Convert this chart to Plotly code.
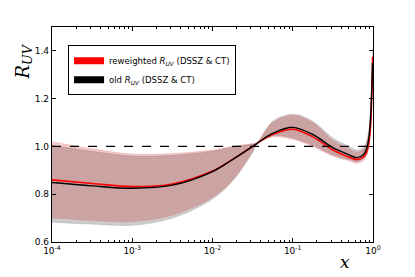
import plotly.graph_objects as go

# log10(x) sample positions and values
logx = [-4, -3.5, -3, -2.5, -2, -1.75, -1.5, -1.45, -1.25, -1.0, -0.75, -0.5, -0.3, -0.2,
        -0.12, -0.08, -0.05, -0.03, -0.02, -0.01, -0.005]
x = [10 ** v for v in logx]

old_central = [0.849, 0.835, 0.825, 0.838, 0.895, 0.945, 1.0, 1.012, 1.055, 1.08, 1.05, 0.995,
               0.965, 0.953, 0.965, 0.99, 1.04, 1.12, 1.2, 1.3, 1.35]
new_central = [0.86, 0.845, 0.832, 0.843, 0.897, 0.946, 1.0, 1.012, 1.05, 1.072, 1.04, 0.985,
               0.955, 0.945, 0.955, 0.975, 1.02, 1.09, 1.17, 1.28, 1.375]

new_upper = [1.02, 0.99, 0.968, 0.97, 0.985, 1.0, 1.012, 1.015, 1.1, 1.13, 1.1, 1.025,
             0.99, 0.975, 0.99, 1.02, 1.07, 1.15, 1.23, 1.34, 1.4]
new_lower = [0.70, 0.69, 0.685, 0.712, 0.787, 0.86, 0.98, 1.01, 1.04, 1.03, 1.0, 0.96,
             0.94, 0.93, 0.94, 0.96, 1.0, 1.06, 1.13, 1.24, 1.33]

old_upper = [1.005, 0.98, 0.96, 0.963, 0.98, 0.997, 1.01, 1.013, 1.105, 1.135, 1.105, 1.035,
             1.0, 0.985, 0.995, 1.02, 1.07, 1.15, 1.23, 1.33, 1.38]
old_lower = [0.683, 0.675, 0.67, 0.70, 0.78, 0.855, 0.975, 1.008, 1.045, 1.035, 1.005, 0.965,
             0.945, 0.937, 0.95, 0.97, 1.01, 1.07, 1.14, 1.25, 1.32]

yticks = [0.6, 0.8, 1.0, 1.2, 1.4]
yticktext = ["0.6", "0.8", "1.0", "1.2", "1.4"]
xticks = [1e-4, 1e-3, 1e-2, 1e-1, 1]
xticktext = ["10<sup>-4</sup>", "10<sup>-3</sup>", "10<sup>-2</sup>", "10<sup>-1</sup>", "10<sup>0</sup>"]
decades = [-4, -3, -2, -1]
minor_mult = [2, 3, 4, 5, 6, 7, 8, 9]
xminor = [m * 10 ** d for d in decades for m in minor_mult]

fig = go.Figure()

# old band (grey)
fig.add_trace(go.Scatter(x=x, y=old_lower, mode="lines", line=dict(width=0.6, color="rgba(150,150,150,0.6)", shape="spline"),
                         showlegend=False, hoverinfo="skip"))
fig.add_trace(go.Scatter(x=x, y=old_upper, mode="lines", line=dict(width=0.6, color="rgba(150,150,150,0.6)", shape="spline"),
                         fill="tonexty", fillcolor="rgba(128,128,128,0.4)", showlegend=False, hoverinfo="skip"))
# reweighted band (red)
fig.add_trace(go.Scatter(x=x, y=new_lower, mode="lines", line=dict(width=0.6, color="rgba(230,120,120,0.5)", shape="spline"),
                         showlegend=False, hoverinfo="skip"))
fig.add_trace(go.Scatter(x=x, y=new_upper, mode="lines", line=dict(width=0.6, color="rgba(230,120,120,0.5)", shape="spline"),
                         fill="tonexty", fillcolor="rgba(200,0,0,0.2)", showlegend=False, hoverinfo="skip"))

# dashed reference line
fig.add_hline(y=1.0, line=dict(color="black", width=1.2, dash="dash"))

# central lines
fig.add_trace(go.Scatter(x=x, y=new_central, mode="lines", line=dict(color="red", width=1.6, shape="spline"),
                         showlegend=False))
fig.add_trace(go.Scatter(x=x, y=old_central, mode="lines", line=dict(color="black", width=1.4, shape="spline"),
                         showlegend=False))

# legend entries
fig.add_trace(go.Scatter(x=[None], y=[None], mode="lines", line=dict(color="red", width=7),
                         name="reweighted <i>R</i><sub><i>UV</i></sub> (DSSZ &amp; CT)"))
fig.add_trace(go.Scatter(x=[None], y=[None], mode="lines", line=dict(color="black", width=7),
                         name="old <i>R</i><sub><i>UV</i></sub> (DSSZ &amp; CT)"))

fig.update_layout(
    width=407, height=269,
    margin=dict(l=44, r=42, t=19, b=35),
    plot_bgcolor="white", paper_bgcolor="white",
    font=dict(family="DejaVu Sans", size=9, color="black"),
    showlegend=True,
    legend=dict(x=0.05, y=0.915, xanchor="left", yanchor="top", traceorder="normal",
                bgcolor="white", bordercolor="black", borderwidth=1,
                font=dict(family="DejaVu Sans", size=8.5), tracegroupgap=0,
                itemwidth=30),
    xaxis=dict(type="log", range=[-4, 0], showline=True, linecolor="black", linewidth=1.2,
               mirror="allticks", ticks="inside", ticklen=4, tickcolor="black",
               tickmode="array", tickvals=xticks, ticktext=xticktext, showgrid=False, zeroline=False,
               automargin=False,
               minor=dict(ticks="inside", ticklen=2, tickcolor="black", showgrid=False,
                          tickmode="array", tickvals=xminor)),
    yaxis=dict(range=[0.6, 1.5], showline=True, linecolor="black", linewidth=1.2,
               mirror="allticks", ticks="inside", ticklen=4, tickcolor="black",
               tickmode="array", tickvals=yticks, ticktext=yticktext,
               showgrid=False, zeroline=False, automargin=False),
)

fig.add_annotation(text="<i>R</i><sub><i>UV</i></sub>", xref="paper", yref="paper",
                   x=-0.087, y=0.84, xanchor="center", yanchor="middle",
                   textangle=-90, showarrow=False,
                   font=dict(family="DejaVu Serif", size=18, color="black"))
fig.add_annotation(text="<i>x</i>", xref="paper", yref="paper",
                   x=0.913, y=-0.095, xanchor="center", yanchor="middle", showarrow=False,
                   font=dict(family="DejaVu Serif", size=17, color="black"))

fig.write_html("out.html")
